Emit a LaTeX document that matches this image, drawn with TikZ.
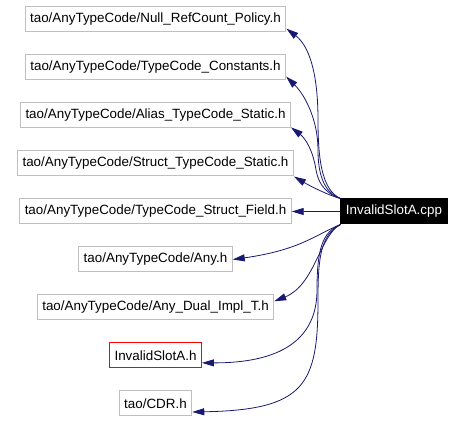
\documentclass[tikz,border=0pt]{standalone}
\usepackage{fontspec}
\setmainfont{Liberation Sans}
\usetikzlibrary{arrows.meta, positioning}
\definecolor{edgeblue}{HTML}{191970}
\definecolor{boxgray}{HTML}{BFBFBF}

\begin{document}
\begin{tikzpicture}[x=1pt, y=-1pt, node distance=48pt,
	file/.style={draw=boxgray, fill=white, line width=1pt, minimum height=25pt, inner xsep=5pt, inner ysep=0pt, font=\fontsize{13.4}{15}\selectfont},
	dep/.style={draw=edgeblue, line width=0.8pt, -{Triangle[length=12pt, width=7pt]}}]
	\useasboundingbox (0,0) rectangle (464,422);

	\node[file]                 (nrc)              at (155.5,19.5) {tao/AnyTypeCode/Null\_RefCount\_Policy.h};
	\node[file]                 (tcc) [below of=nrc] {tao/AnyTypeCode/TypeCode\_Constants.h};
	\node[file]                 (atc) [below of=tcc] {tao/AnyTypeCode/Alias\_TypeCode\_Static.h};
	\node[file]                 (stc) [below of=atc] {tao/AnyTypeCode/Struct\_TypeCode\_Static.h};
	\node[file]                 (tsf) [below of=stc] {tao/AnyTypeCode/TypeCode\_Struct\_Field.h};
	\node[file]                 (any) [below of=tsf] {tao/AnyTypeCode/Any.h};
	\node[file]                 (adi) [below of=any] {tao/AnyTypeCode/Any\_Dual\_Impl\_T.h};
	\node[file, draw=red]       (slh) [below of=adi] {InvalidSlotA.h};
	\node[file]                 (cdr) [below of=slh] {tao/CDR.h};
	\node[file, fill=black, draw=black, text=white] (cpp) at (394,211.5) {InvalidSlotA.cpp};

	\draw[dep] (cpp.north west) .. controls (322,190) and (318,160) .. (318,120) .. controls (318,70) and (308,45) .. (nrc.-4);
	\draw[dep] (cpp.north west) .. controls (322,192) and (318,170) .. (318,150) .. controls (318,120) and (305,95) .. (tcc.-4);
	\draw[dep] (cpp.north west) .. controls (322,192) and (318,180) .. (316,170) .. controls (313,150) and (305,138) .. (atc.-5);
	\draw[dep] (cpp.north west) .. controls (330,196) and (310,186) .. (stc.south east);
	\draw[dep] (cpp) -- (tsf);
	\draw[dep] (cpp.south west) .. controls (315,235) and (300,250) .. (any.east);
	\draw[dep] (cpp.south west) .. controls (320,235) and (315,285) .. (adi.3);
	\draw[dep] (cpp.south west) .. controls (322,232) and (317,250) .. (317,290) .. controls (317,340) and (280,363) .. (slh.-9);
	\draw[dep] (cpp.south west) .. controls (320,235) and (318,260) .. (318,300) .. controls (318,385) and (305,410) .. (cdr.-13);
\end{tikzpicture}
\end{document}
